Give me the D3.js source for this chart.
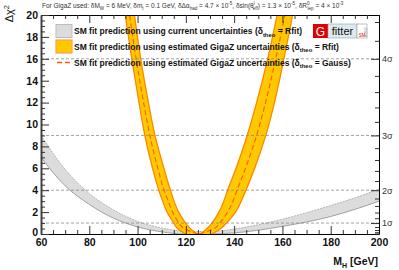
<!DOCTYPE html>
<html><head><meta charset="utf-8">
<script src="https://cdn.jsdelivr.net/npm/d3@7"></script>
<style>
body{margin:0;background:#fff}
svg{display:block}
text{font-family:"Liberation Sans",Arial,Helvetica,sans-serif}
</style>
</head><body>
<svg id="c" width="399" height="270"></svg>
<script>
// ---------- data ----------
const massGrid   = [60, 70, 80, 90, 100, 110, 120, 130, 140, 150, 160, 170, 180, 190, 200];
const grayUpper  = [9.0, 5.9, 3.7, 2.2, 1.15, 0.55, 0.25, 0.22, 0.45, 0.85, 1.35, 1.95, 2.6, 3.3, 4.1];
const grayLower  = [7.0, 4.4, 2.7, 1.45, 0.65, 0.2, 0.0, 0.0, 0.1, 0.35, 0.7, 1.1, 1.6, 2.25, 3.0];

const chi2Levels       = [0, 0.5, 1, 2, 3, 4, 6, 9, 12, 16, 20, 22];
const gigazOuterLeft   = [120.0, 116.5, 115.0, 112.2, 110.4, 108.8, 106.2, 103.0, 100.6, 97.6, 94.9, 93.6];
const gigazInnerLeft   = [124.6, 121.8, 119.9, 117.0, 115.1, 113.6, 110.9, 107.2, 104.5, 101.3, 98.7, 97.4];
const gigazInnerRight  = [126.1, 128.8, 130.8, 133.7, 135.7, 137.3, 140.8, 145.4, 149.3, 153.9, 157.8, 159.6];
const gigazOuterRight  = [130.7, 134.5, 136.8, 140.6, 142.9, 144.9, 148.5, 153.1, 156.7, 160.6, 164.2, 165.8];
const gaussLeft        = [125.0, 119.2, 117.2, 114.5, 112.7, 111.0, 108.4, 105.1, 102.5, 99.4, 96.7, 95.4];
const gaussRight       = [125.6, 131.8, 134.0, 137.3, 139.5, 141.2, 144.7, 149.3, 153.0, 157.2, 161.0, 162.6];

const xMajorTicks = [60, 80, 100, 120, 140, 160, 180, 200];
const yMajorTicks = [0, 2, 4, 6, 8, 10, 12, 14, 16, 18, 20];
const sigmaValues = [1, 2, 3, 4];
const sigmaLabels = ["1σ", "2σ", "3σ", "4σ"];
const sigmaMinor  = [0.2,0.4,0.6,0.8,1.2,1.4,1.6,1.8,2.2,2.4,2.6,2.8,3.2,3.4,3.6,3.8,4.2,4.4];

const legendLabels = [
  [["SM fit prediction using current uncertainties (δ",""],["theo","sub"],[" = Rfit)",""]],
  [["SM fit prediction using estimated GigaZ uncertainties (δ",""],["theo","sub"],[" = Rfit)",""]],
  [["SM fit prediction using estimated GigaZ uncertainties (δ",""],["theo","sub"],[" = Gauss)",""]]
];
const titleParts = [["For GigaZ used: δM",""],["W","sub"],[" = 6 MeV, δm",""],["t","sub"],[" = 0.1 GeV, δΔα",""],["had","sub"],
  [" = 4.7 × 10",""],["-5","sup"],[", δsin(θ",""],["l","sup"],["eff","sub2"],[") = 1.3 × 10",""],["-5","sup"],[", δR",""],["0","sup"],["lep","sub2"],[" = 4 × 10",""],["-3","sup"]];

// ---------- layout ----------
const svg = d3.select("#c");
const x = d3.scaleLinear().domain([60, 200]).range([41, 379]);
const y = d3.scaleLinear().domain([0, 20]).range([234, 15]);

svg.append("defs").append("clipPath").attr("id","clip")
  .append("rect").attr("x",41).attr("y",15).attr("width",338).attr("height",219);
const plot = svg.append("g").attr("clip-path","url(#clip)");

// gray band
const grayData = massGrid.map((m,i)=>({m, lo:grayLower[i], hi:grayUpper[i]}));
plot.append("path").datum(grayData)
  .attr("d", d3.area().x(d=>x(d.m)).y0(d=>y(d.lo)).y1(d=>y(d.hi)).curve(d3.curveMonotoneX))
  .attr("fill","#dcdcdc");
plot.append("path").datum(grayData)
  .attr("d", d3.line().x(d=>x(d.m)).y(d=>y(d.hi)).curve(d3.curveMonotoneX))
  .attr("fill","none").attr("stroke","#b4b4b4").attr("stroke-width",1).attr("stroke-dasharray","2,1");
plot.append("path").datum(grayData)
  .attr("d", d3.line().x(d=>x(d.m)).y(d=>y(d.lo)).curve(d3.curveMonotoneX))
  .attr("fill","none").attr("stroke","#a0a0a0").attr("stroke-width",1);

// orange band
const oL = chi2Levels.map((c,i)=>({c, a:gigazOuterLeft[i], b:gigazInnerLeft[i]}));
const oR = chi2Levels.map((c,i)=>({c, a:gigazInnerRight[i], b:gigazOuterRight[i]}));
const areaY = d3.area().y(d=>y(d.c)).x0(d=>x(d.a)).x1(d=>x(d.b)).curve(d3.curveMonotoneY);
[oL, oR].forEach(dat=>{
  plot.append("path").datum(dat).attr("d", areaY).attr("fill","#ffc800").attr("stroke","#ffc800").attr("stroke-width",0.6);
});
plot.append("rect").attr("x",x(gigazOuterLeft[0])).attr("y",y(0)-1).attr("width",x(gigazOuterRight[0])-x(gigazOuterLeft[0])).attr("height",1).attr("fill","#ffc800");
const lineY = arr => d3.line().y((d,i)=>y(chi2Levels[i])).x(d=>x(d)).curve(d3.curveMonotoneY)(arr);
[gigazOuterLeft, gigazInnerLeft, gigazInnerRight, gigazOuterRight].forEach(arr=>{
  plot.append("path").attr("d", lineY(arr)).attr("fill","none").attr("stroke","#ff8400").attr("stroke-width",1.2);
});
[gaussLeft, gaussRight].forEach(arr=>{
  plot.append("path").attr("d", lineY(arr)).attr("fill","none").attr("stroke","#ff5a00")
    .attr("stroke-width",1.1).attr("stroke-dasharray","5,3");
});

// sigma dashed lines
svg.append("g").selectAll("line").data(sigmaValues).join("line")
  .attr("x1",41).attr("x2",379).attr("y1",d=>y(d*d)).attr("y2",d=>y(d*d))
  .attr("stroke","#8a8a8a").attr("stroke-width",0.8).attr("stroke-dasharray","3,2");

// ---------- axes ----------
const xMinor = d3.range(60, 201, 5).filter(v=>v%20!==0);
const yMinor = d3.range(0, 20.01, 0.5).filter(v=>v%2!==0);

const gxb = svg.append("g").attr("transform","translate(0,234)")
  .call(d3.axisBottom(x).tickValues(xMajorTicks).tickSizeInner(-8).tickSizeOuter(0).tickPadding(5).tickFormat(d3.format("d")));
gxb.selectAll("text").attr("font-size",10.5).attr("font-weight","bold").attr("fill","#111");
svg.append("g").attr("transform","translate(0,234)")
  .call(d3.axisBottom(x).tickValues(xMinor).tickSizeInner(-4).tickSizeOuter(0).tickFormat(""))
  .call(g=>g.select(".domain").remove());
svg.append("g").attr("transform","translate(0,15)")
  .call(d3.axisTop(x).tickValues(xMajorTicks).tickSizeInner(-8).tickSizeOuter(0).tickFormat(""));
svg.append("g").attr("transform","translate(0,15)")
  .call(d3.axisTop(x).tickValues(xMinor).tickSizeInner(-4).tickSizeOuter(0).tickFormat(""))
  .call(g=>g.select(".domain").remove());

const gyl = svg.append("g").attr("transform","translate(41,0)")
  .call(d3.axisLeft(y).tickValues(yMajorTicks).tickSizeInner(-8).tickSizeOuter(0).tickPadding(3).tickFormat(d3.format("d")));
gyl.selectAll("text").attr("font-size",10.5).attr("font-weight","bold").attr("fill","#111")
  .attr("dy",(d)=> d===0 ? "0.1em" : "0.32em");
gyl.select(".domain").attr("stroke-width",2).attr("stroke","#444");
svg.append("g").attr("transform","translate(41,0)")
  .call(d3.axisLeft(y).tickValues(yMinor).tickSizeInner(-4).tickSizeOuter(0).tickFormat(""))
  .call(g=>g.select(".domain").remove());

const gyr = svg.append("g").attr("transform","translate(379,0)")
  .call(d3.axisRight(y).tickValues(sigmaValues.map(s=>s*s)).tickSizeInner(-8).tickSizeOuter(0).tickPadding(3)
    .tickFormat((d,i)=>sigmaLabels[i]));
gyr.selectAll("text").attr("font-size",9).attr("fill","#333");
svg.append("g").attr("transform","translate(379,0)")
  .call(d3.axisRight(y).tickValues(sigmaMinor.map(s=>s*s)).tickSizeInner(-4).tickSizeOuter(0).tickFormat(""))
  .call(g=>g.select(".domain").remove());

svg.selectAll(".tick line").attr("stroke","#333");

// axis titles
svg.append("text").attr("transform","translate(13,5) rotate(-90)").attr("text-anchor","end")
  .attr("font-size",11).attr("fill","#111").text("Δχ").append("tspan").attr("font-size",7.5).attr("dy",-4).text("2");
const xt = svg.append("text").attr("x",378).attr("y",265).attr("text-anchor","end")
  .attr("font-size",10.5).attr("font-weight","bold").attr("fill","#111");
xt.append("tspan").text("M");
xt.append("tspan").attr("font-size",7).attr("dy",2.5).text("H");
xt.append("tspan").attr("dy",-2.5).text(" [GeV]");

// rich text helper
function rich(sel, parts, fs){
  let off = 0;
  parts.forEach(([t,mode])=>{
    let target = 0, size = fs;
    if(mode==="sub" || mode==="sub2"){ target = fs*0.3; size = fs*0.7; }
    else if(mode==="sup"){ target = -fs*0.4; size = fs*0.7; }
    const sp = sel.append("tspan").attr("font-size",size).attr("dy",target-off).text(t);
    if(mode==="sub2") sp.attr("dx",-fs*0.3);
    off = target;
  });
}

// title
const tt = svg.append("text").attr("x",42).attr("y",8).attr("fill","#333");
rich(tt, titleParts, 6.5);

// legend
const legY = [31, 46.5, 62.5];
svg.append("rect").attr("x",56).attr("y",24.5).attr("width",16).attr("height",13).attr("fill","#dcdcdc").attr("stroke","#bdbdbd");
svg.append("rect").attr("x",56).attr("y",40).attr("width",16).attr("height",13).attr("fill","#ffc800").attr("stroke","#ffa040").attr("stroke-width",1.2);
svg.append("line").attr("x1",57).attr("x2",72).attr("y1",62.5).attr("y2",62.5).attr("stroke","#ff5a00").attr("stroke-width",1.3).attr("stroke-dasharray","5,3");
legendLabels.forEach((parts,i)=>{
  const t = svg.append("text").attr("x",74).attr("y",legY[i]+3.2).attr("font-weight","bold").attr("fill","#111");
  rich(t, parts, 8.5);
});

// Gfitter logo
const lg = svg.append("g");
lg.append("rect").attr("x",313).attr("y",24).attr("width",15).attr("height",14).attr("fill","#e00000");
lg.append("text").attr("x",320.5).attr("y",35.5).attr("text-anchor","middle").attr("font-size",12).attr("fill","#fff").text("G");
lg.append("rect").attr("x",328).attr("y",24).attr("width",29).attr("height",14).attr("fill","#dfe9ed").attr("stroke","#8aa").attr("stroke-width",0.6);
lg.append("text").attr("x",342.5).attr("y",35).attr("text-anchor","middle").attr("font-size",11).attr("fill","#111").text("fitter");
lg.append("rect").attr("x",357).attr("y",24).attr("width",10).attr("height",14).attr("fill","#fff").attr("stroke","#999").attr("stroke-width",0.6);
lg.append("text").attr("x",362).attr("y",36.5).attr("text-anchor","middle").attr("font-size",4.5).attr("fill","#e00000").text("SM");
lg.append("text").attr("transform","translate(367,32) rotate(-90)").attr("text-anchor","middle").attr("font-size",3).attr("fill","#777").text("B 2012");
</script>
</body></html>
